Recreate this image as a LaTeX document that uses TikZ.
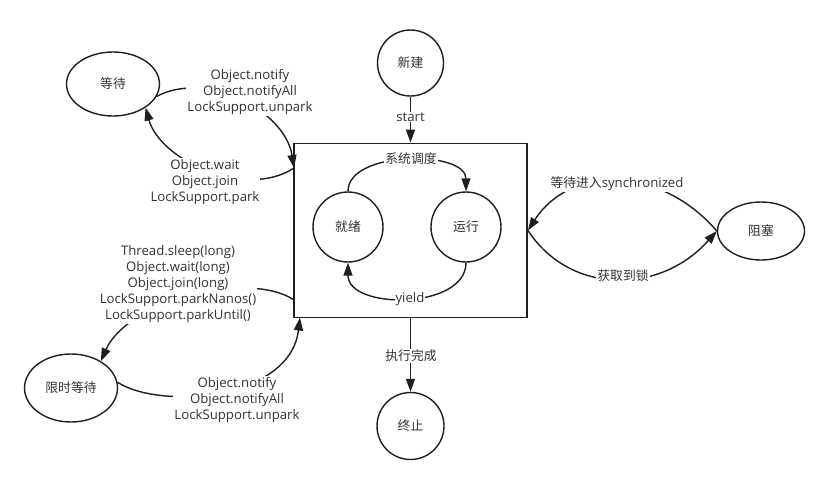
\documentclass[tikz,border=0pt]{standalone}
\usepackage{fontspec}
\setmainfont{Open Sans}
\newfontfamily\cjk{Noto Sans CJK SC}
\usetikzlibrary{arrows.meta,shapes.geometric}
\begin{document}
\begin{tikzpicture}[x=1pt,y=-1pt,
  st/.style={draw=black!88, line width=1.4pt, font=\cjk\fontsize{12.8}{15}\selectfont, text=black!80},
  circ/.style={st, circle, inner sep=0pt},
  ell/.style={st, ellipse, inner sep=0pt},
  arr/.style={draw=black!88, line width=1.4pt, -{Triangle[length=13pt,width=9pt]}},
  lab/.style={fill=white, inner sep=1pt, align=center, font=\fontsize{13.2}{16}\selectfont, text=black!80},
  clab/.style={lab, font=\cjk\fontsize{12.8}{16}\selectfont}]
\fill[white] (0,0) rectangle (827,485);
\useasboundingbox (0,0) rectangle (827,485);
% states
\node[circ, minimum size=66pt] (new) at (410.5,63) {新建};
\node[draw=black!88, line width=1.9pt, minimum width=233pt, minimum height=174pt, inner sep=0pt] (box) at (410.5,230.5) {};
\node[circ, minimum size=70pt] (ready) at (348,227) {就绪};
\node[circ, minimum size=70pt] (run) at (466,227) {运行};
\node[ell, minimum width=87pt, minimum height=58pt] (block) at (761,231) {阻塞};
\node[ell, minimum width=93pt, minimum height=64pt] (wait) at (113,84) {等待};
\node[ell, minimum width=93pt, minimum height=68pt] (twait) at (71,388) {限时等待};
\node[circ, minimum size=67pt] (term) at (410.5,426) {终止};
\coordinate (bL1) at (294,168);
\coordinate (bL2) at (294,300);
\coordinate (bB1) at (300,317.5);
% connectors
\draw[arr] (new) -- (box.north);
\draw[arr] (ready.north) .. controls (348,150) and (466,150) .. (run.north);
\draw[arr] (run.south) .. controls (466,310) and (348,310) .. (ready.south);
\draw[arr] (block.west) .. controls (660,165) and (570,165) .. (box.east);
\draw[arr] (box.east) .. controls (570,295) and (660,295) .. (block.west);
\draw[arr] (wait.-16) .. controls (205,70) and (285,110) .. (bL1);
\draw[arr] (bL1) .. controls (245,200) and (160,160) .. (wait.-36);
\draw[arr] (bL2) .. controls (250,270) and (128,300) .. (twait.42);
\draw[arr] (twait.7) .. controls (160,410) and (290,400) .. (bB1);
\draw[arr] (box.south) -- (term);
% labels
\node[lab] (lstart) at (410.5,117) {start};
\node[clab] (lsched) at (411,159) {系统调度};
\node[lab] (lyield) at (410,299) {yield};
\node[lab] (lsync) at (617,184) {{\cjk\fontsize{12.8}{16}\selectfont 等待进入}synchronized};
\node[clab] (llock) at (623,276) {获取到锁};
\node[lab] (ln1) at (250,92) {Object.notify\\Object.notifyAll\\LockSupport.unpark};
\node[lab] (lw) at (205,182) {Object.wait\\Object.join\\LockSupport.park};
\node[lab] (ls) at (178,284) {Thread.sleep(long)\\Object.wait(long)\\Object.join(long)\\LockSupport.parkNanos()\\LockSupport.parkUntil()};
\node[lab] (ln2) at (237,400) {Object.notify\\Object.notifyAll\\LockSupport.unpark};
\node[clab] (ldone) at (411,356) {执行完成};
\end{tikzpicture}
\end{document}
